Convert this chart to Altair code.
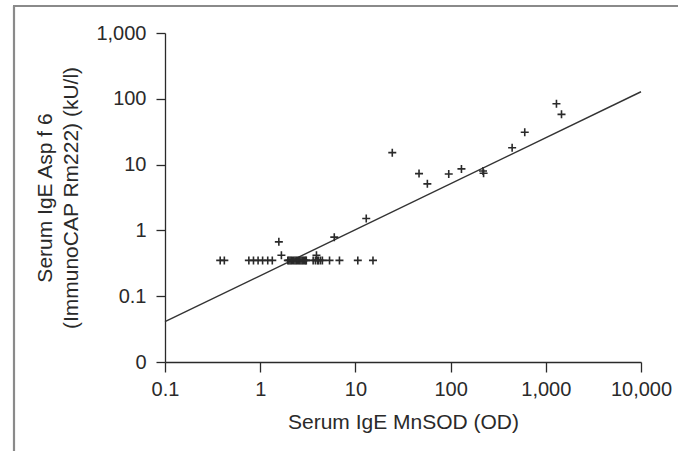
import altair as alt
import pandas as pd

# Scatter points
x_vals = [0.38, 0.42,
          0.76, 0.85, 0.95, 1.06, 1.2, 1.34,
          1.57, 1.67,
          1.95, 2.0, 2.06, 2.12, 2.18, 2.25, 2.32, 2.39, 2.46, 2.53, 2.6, 2.68, 2.76, 2.84, 2.92, 3.0, 3.05,
          3.6, 3.8, 3.9, 4.0, 4.1, 4.3, 4.5,
          5.35, 6.8, 10.6, 15.3,
          6.0, 13.0, 24.4, 46.6, 57, 95.6, 130, 219, 222, 443, 601, 1294, 1462]
y_vals = [0.35, 0.35,
          0.35, 0.35, 0.35, 0.35, 0.35, 0.35,
          0.67, 0.42,
          0.35, 0.35, 0.35, 0.35, 0.35, 0.35, 0.35, 0.35, 0.35, 0.35, 0.35, 0.35, 0.35, 0.35, 0.35, 0.35, 0.35,
          0.35, 0.35, 0.42, 0.35, 0.35, 0.35, 0.35,
          0.35, 0.35, 0.35, 0.35,
          0.79, 1.52, 15.2, 7.3, 5.1, 7.2, 8.6, 8.0, 7.4, 18, 31, 84, 58]

# Regression line end points
line_x = [0.1, 10000]
line_y = [0.041, 128]

x_ticks = [0.1, 1, 10, 100, 1000, 10000]
y_ticks = [0.01, 0.1, 1, 10, 100, 1000]

pts = pd.DataFrame({"x": x_vals, "y": y_vals})
ln = pd.DataFrame({"x": line_x, "y": line_y})

FONT = "Liberation Sans"
INK = "#2a2a2a"

xscale = alt.Scale(type="log", domain=[0.1, 10000], nice=False)
yscale = alt.Scale(type="log", domain=[0.01, 1000], nice=False)

xaxis = alt.Axis(
    title="Serum IgE MnSOD (OD)",
    values=x_ticks,
    labelExpr="format(datum.value, ',')",
    grid=False,
    tickSize=10, tickColor=INK, tickWidth=1.3,
    domainColor=INK, domainWidth=1.3,
    labelFont=FONT, labelFontSize=20, labelColor=INK, labelPadding=7,
    labelFlush=False, labelOverlap=False,
    titleFont=FONT, titleFontSize=21, titleFontWeight="normal", titleColor=INK,
    titlePadding=12,
)
yaxis = alt.Axis(
    title=["Serum IgE Asp f 6", "(ImmunoCAP Rm222) (kU/l)"],
    values=y_ticks,
    labelExpr="datum.value < 0.05 ? '0' : format(datum.value, ',')",
    grid=False,
    tickSize=9, tickColor=INK, tickWidth=1.3,
    domainColor=INK, domainWidth=1.3,
    labelFont=FONT, labelFontSize=20, labelColor=INK, labelPadding=10,
    labelFlush=False, labelOverlap=False,
    titleFont=FONT, titleFontSize=21, titleFontWeight="normal", titleColor=INK,
    titleLineHeight=26, titlePadding=14,
)

points = alt.Chart(pts).mark_point(
    shape="M-1,0H1M0,-1V1", size=64, strokeWidth=1.6, color=INK, filled=False, opacity=1
).encode(
    x=alt.X("x:Q", scale=xscale, axis=xaxis),
    y=alt.Y("y:Q", scale=yscale, axis=yaxis),
)

line = alt.Chart(ln).mark_line(color="#333333", strokeWidth=1.4).encode(
    x=alt.X("x:Q", scale=xscale),
    y=alt.Y("y:Q", scale=yscale),
)

frame_df = pd.DataFrame({"a": [0]})
frame_left = alt.Chart(frame_df).mark_rule(color="#8a8a8a", strokeWidth=2.2).encode(
    x=alt.value(-151), y=alt.value(-27), y2=alt.value(430)
)
frame_top = alt.Chart(frame_df).mark_rule(color="#8a8a8a", strokeWidth=2.2).encode(
    x=alt.value(-152), x2=alt.value(520), y=alt.value(-27)
)

chart = alt.layer(frame_left, frame_top, line, points).properties(
    width=476, height=329,
    autosize=alt.AutoSizeParams(type="none"),
    padding={"left": 165, "top": 33, "right": 37, "bottom": 89},
    background="white",
).configure_view(strokeWidth=0)

chart.save("out.html", embed_options={"renderer": "svg", "actions": False})
